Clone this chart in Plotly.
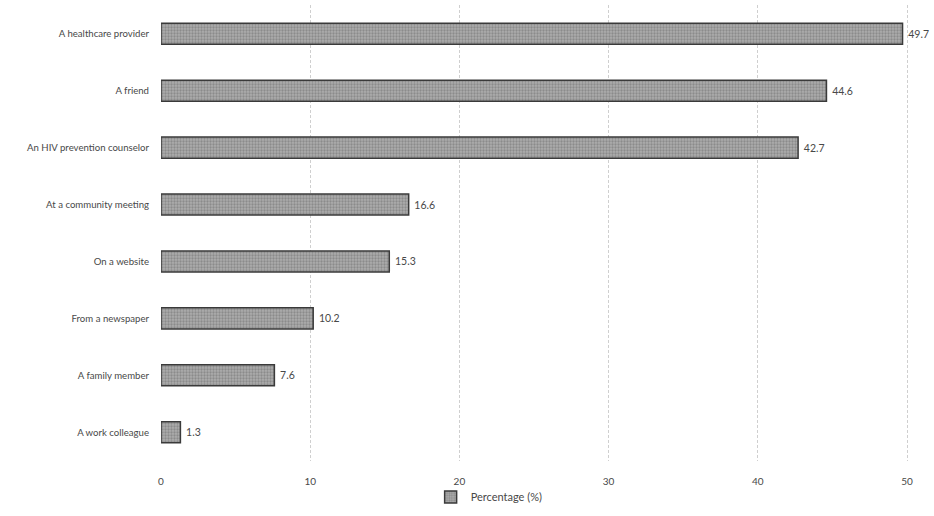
import plotly.graph_objects as go

categories = ["A healthcare provider", "A friend", "An HIV prevention counselor",
              "At a community meeting", "On a website", "From a newspaper",
              "A family member", "A work colleague"]
values = [49.7, 44.6, 42.7, 16.6, 15.3, 10.2, 7.6, 1.3]
tick_vals = [0, 10, 20, 30, 40, 50]

font_color = "#484848"
fam = "Lato, Open Sans, DejaVu Sans, sans-serif"
fs = 10

fig = go.Figure()
fig.add_trace(go.Bar(
    y=categories, x=values, orientation="h",
    name="Percentage (%)",
    marker=dict(
        color="#a0a0a0",
        line=dict(color="#3a3a3a", width=1.5),
        pattern=dict(shape=".", fgcolor="#6a6a6a", bgcolor="#acacac", size=3, solidity=0.45),
    ),
    width=0.37,
    text=[f" {v:.1f}" for v in values],
    textposition="outside",
    textfont=dict(size=10.5, color=font_color, family=fam),
    cliponaxis=False,
))

fig.update_layout(
    width=934, height=516,
    margin=dict(l=161, r=24, t=5, b=51),
    plot_bgcolor="white", paper_bgcolor="white",
    font=dict(family=fam, size=fs, color=font_color),
    bargap=0.63,
    showlegend=True,
    legend=dict(orientation="h", x=0.36, xanchor="left", y=-0.1105, yanchor="bottom",
                itemwidth=30, bgcolor="rgba(0,0,0,0)",
                font=dict(size=11, color=font_color)),
    xaxis=dict(range=[0, 50.2], tickvals=tick_vals, showgrid=True, gridcolor="#cfcfcf",
               griddash="3px,2px", gridwidth=1, zeroline=False, showline=False,
               ticks="", ticklabelstandoff=13, automargin=False,
               tickfont=dict(size=10, color=font_color)),
    yaxis=dict(categoryorder="array", categoryarray=categories[::-1],
               range=[-0.505, 7.505],
               showgrid=False, zeroline=False, showline=False, ticks="",
               ticklabelstandoff=11, automargin=False,
               tickfont=dict(size=9.6, color=font_color)),
)

fig.write_html("out.html", config={"displayModeBar": False},
               post_script="document.body.style.margin='0';")
